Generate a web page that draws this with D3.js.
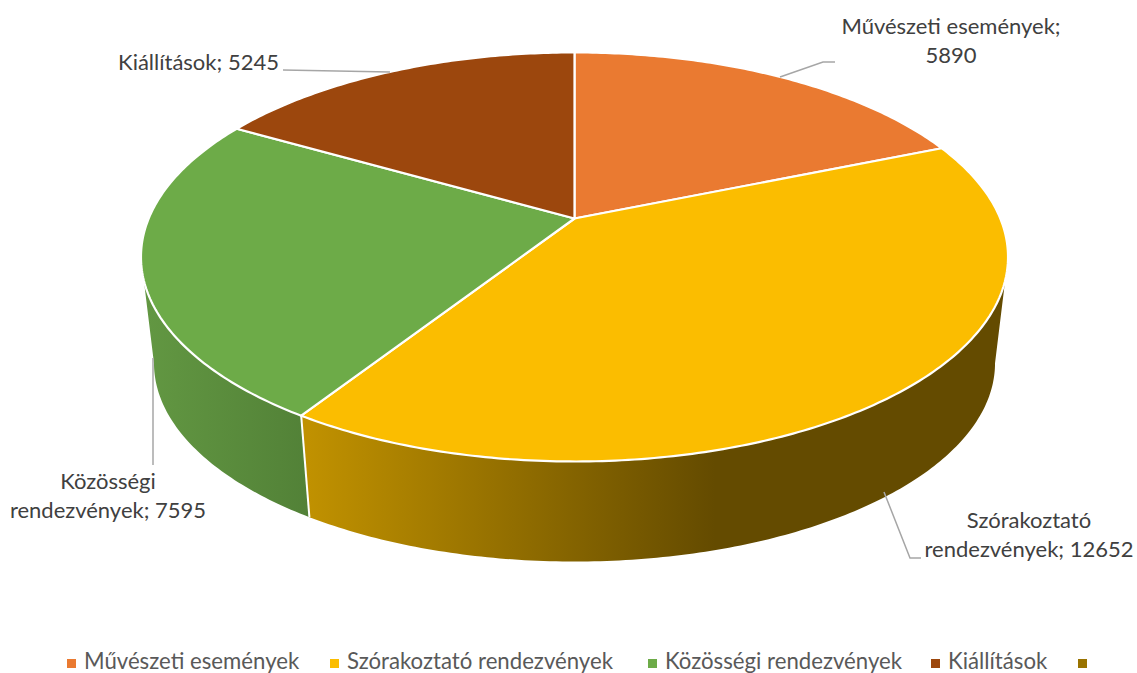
<!DOCTYPE html>
<html><head><meta charset="utf-8">
<script src="https://cdnjs.cloudflare.com/ajax/libs/d3/7.8.5/d3.min.js"></script>
<style>html,body{margin:0;padding:0;background:#fff}svg{display:block}</style>
</head><body><svg id="c" width="1137" height="673"></svg>
<script>
const categories = ["Művészeti események","Szórakoztató rendezvények","Közösségi rendezvények","Kiállítások",""];
const values = [5890,12652,7595,5245,0];
const colors = ["#EA7A31","#FBBD00","#6DAB48","#9C470D","#997300"];
const sideStops = [null,[["#C09100",0],["#644B00",1]],[["#629742",0],["#528137",1]],null,null];
const labelLines = [["Művészeti események;","5890"],["Szórakoztató","rendezvények; 12652"],["Közösségi","rendezvények; 7595"],["Kiállítások; 5245"],[]];

const svg = d3.select("#c");
const font = "Lato, Carlito, 'Open Sans', sans-serif";
// perspective projection of the disc
const cx = 574.5, cy = 218.5, a = 197.3, b = 425.8, k = 0.188;
const vy = 3797, s = 0.97;
const top_ = t => { const u = Math.sin(t), v = Math.cos(t), d = 1 + k*v; return [cx + b*u/d, cy - a*v/d]; };
const bot = t => { const p = top_(t); return [cx + s*(p[0]-cx), vy + s*(p[1]-vy)]; };
const tangent = Math.PI/2 + Math.asin(k);
const line = d3.line();
const range = (t0,t1) => { const n = Math.max(2, Math.ceil((t1-t0)*80)); return d3.range(n+1).map(i => t0 + (t1-t0)*i/n); };

const arcs = d3.pie().sort(null).value(d => d)(values);

const defs = svg.append("defs");
const gradientSpan = [null,[309,715],[147,309],null,null];
arcs.forEach((d,i) => {
  if (!sideStops[i]) return;
  const g = defs.append("linearGradient").attr("id","g"+i).attr("gradientUnits","userSpaceOnUse")
    .attr("x1",gradientSpan[i][0]).attr("x2",gradientSpan[i][1]).attr("y1",0).attr("y2",0);
  sideStops[i].forEach(st => g.append("stop").attr("offset",st[1]).attr("stop-color",st[0]));
});

// side walls
arcs.forEach((d,i) => {
  const t0 = Math.max(d.startAngle,tangent), t1 = Math.min(d.endAngle,2*Math.PI-tangent);
  if (t1 <= t0) return;
  const ts = range(t0,t1);
  const pts = ts.map(top_).concat(ts.slice().reverse().map(bot));
  svg.append("path").attr("d",line(pts)+"Z").attr("fill","url(#g"+i+")");
});
// white seam between the walls
const seam = arcs[2].startAngle;
svg.append("path").attr("d",line([top_(seam),bot(seam)])).attr("stroke","#fff").attr("stroke-width",2).attr("fill","none");

// top face
arcs.forEach((d,i) => {
  if (d.endAngle <= d.startAngle) return;
  const pts = [[cx,cy]].concat(range(d.startAngle,d.endAngle).map(top_));
  svg.append("path").attr("d",line(pts)+"Z").attr("fill",colors[i]).attr("stroke","#fff").attr("stroke-width",2.2).attr("stroke-linejoin","round");
});

// leader lines
const leaders = [[[780,77],[823,62],[835,62]],[[884,492],[910,558],[921,558]],[[153,358],[153,465]],[[283,70],[390,72]]];
leaders.forEach(l => svg.append("path").attr("d",line(l)).attr("fill","none").attr("stroke","#A6A6A6").attr("stroke-width",1.5));

// data labels
const labelPos = [[951,34],[1029,528],[108,489],[198.5,70]];
labelPos.forEach((p,i) => {
  labelLines[i].forEach((t,j) => svg.append("text").attr("x",p[0]).attr("y",p[1]+j*29)
    .attr("text-anchor","middle").attr("font-family",font).attr("font-size",22).attr("fill","#404040").text(t));
});

// legend
const legendX = [67,330,648,931,1078];
categories.forEach((c,i) => {
  svg.append("rect").attr("x",legendX[i]).attr("y",659).attr("width",9).attr("height",9).attr("fill",colors[i]);
  if (c) svg.append("text").attr("x",legendX[i]+17).attr("y",669).attr("font-family",font).attr("font-size",22.2).attr("fill","#595959").text(c);
});
</script></body></html>
